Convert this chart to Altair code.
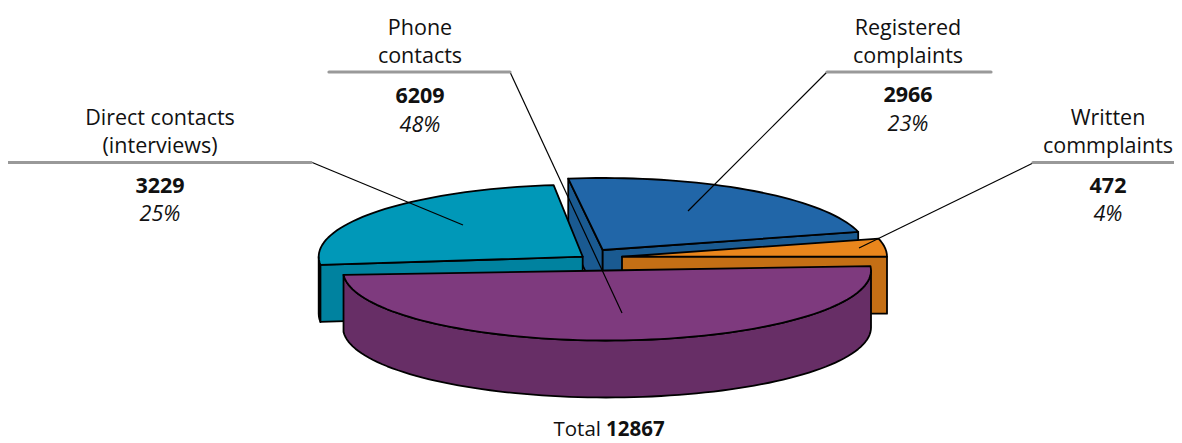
import math
import altair as alt

# ---- data
categories = ["Direct contacts", "Registered complaints", "Written commplaints", "Phone contacts"]
values = [3229, 2966, 472, 6209]
percents = ["25%", "23%", "4%", "48%"]
label_lines = [["Direct contacts", "(interviews)"], ["Registered", "complaints"],
               ["Written", "commplaints"], ["Phone", "contacts"]]
total_label = "12867"

# ---- styling / pie view (page coordinates, chart offset by 8px page margin)
OFF = 8
TOTAL = sum(values)
style = {
    "Direct contacts":       dict(c=(582.7, 256.7), start=173.4, stretch=1.0,  rx=264, ry=72, top="#0098B8", wall="#00829F", side="#00829F"),
    "Registered complaints": dict(c=(602.7, 250.0), start=262.5, stretch=1.0,  rx=264, ry=72, top="#2166A8", wall="#1A5A91", side="#1A5A91"),
    "Written commplaints":   dict(c=(622.0, 256.7), start=345.5, stretch=1.10, rx=265, ry=72, top="#EA861C", wall="#C46F15", side="#C46F15"),
    "Phone contacts":        dict(c=(607.0, 270.5), start=-3.6,  stretch=1.037, rx=264, ry=70, top="#7E3A7E", wall="#672E66", side="#672E66"),
}
DEPTH = 57
features = []


def pt(s, deg, dy=0.0):
    a = math.radians(deg)
    return [s["c"][0] + s["rx"] * math.cos(a) - OFF, s["c"][1] + s["ry"] * math.sin(a) + dy - OFF]


def add(ring, color):
    ring = ring + [ring[0]]
    features.append({"type": "Feature", "properties": {"color": color},
                     "geometry": {"type": "Polygon", "coordinates": [ring]}})


def arc(s, a0, a1, dy=0.0):
    n = max(2, int(abs(a1 - a0) / 2) + 1)
    return [pt(s, a0 + (a1 - a0) * i / (n - 1), dy) for i in range(n)]


def top(s, a0, a1):
    cen = [s["c"][0] - OFF, s["c"][1] - OFF]
    add([cen] + arc(s, a0, a1), s["top"])


def cut_wall(s, a):
    cen = [s["c"][0] - OFF, s["c"][1] - OFF]
    add([cen, pt(s, a), pt(s, a, DEPTH), [cen[0], cen[1] + DEPTH]], s["wall"])


def side(s, a0, a1):
    add(arc(s, a0, a1) + arc(s, a1, a0, DEPTH), s["side"])


span = {}
for name, v in zip(categories, values):
    s = style[name]
    span[name] = (s["start"], s["start"] + v / TOTAL * 360 * s["stretch"])

# blue
s = style["Registered complaints"]; a0, a1 = span["Registered complaints"]
cut_wall(s, a0); cut_wall(s, a1); top(s, a0, a1)
# orange
s = style["Written commplaints"]; a0, a1 = span["Written commplaints"]
cut_wall(s, a1); top(s, a0, a1)
# teal
s = style["Direct contacts"]; a0, a1 = span["Direct contacts"]
side(s, a0, 180); cut_wall(s, a0); top(s, a0, a1)
# purple
s = style["Phone contacts"]; a0, a1 = span["Phone contacts"]
side(s, 0, a1); top(s, a0, a1)

layers = [
    alt.Chart(alt.Data(values=features)).mark_geoshape(
        stroke="black", strokeWidth=1.8, strokeJoin="round"
    ).encode(fill=alt.Fill("properties.color:N", scale=None)).project(
        type="identity", scale=1, translate=[0, 0]
    )
]

FONT = "Open Sans"
FS = 21.5


def seg(x0, y0, x1, y1, color, w, cap="butt"):
    return alt.Chart(alt.Data(values=[{"k": 0}])).mark_rule(
        color=color, strokeWidth=w, strokeCap=cap
    ).encode(x=alt.value(x0 - OFF), x2=alt.value(x1 - OFF), y=alt.value(y0 - OFF), y2=alt.value(y1 - OFF))


def txt(text, x, y, weight="normal", style_="normal", align="center", size=FS):
    return alt.Chart(alt.Data(values=[{"t": text}])).mark_text(
        font=FONT, fontSize=size, fontWeight=weight, fontStyle=style_, align=align,
        baseline="middle", color="#111111"
    ).encode(text="t:N", x=alt.value(x - OFF), y=alt.value(y - OFF))


# leaders
layers += [
    seg(311, 162, 463, 225, "black", 1.2),
    seg(510, 72, 622, 313, "black", 1.2),
    seg(827, 72, 688, 211, "black", 1.2),
    seg(1033, 163, 859, 248, "black", 1.2),
    seg(8, 162.5, 311, 162.5, "#999999", 3.2, "round"),
    seg(329, 72, 510, 72, "#999999", 3.2, "round"),
    seg(827, 72, 991, 72, "#999999", 3.2, "round"),
    seg(1033, 162.5, 1182, 162.5, "#999999", 3.2, "round"),
]

label_pos = {
    "Direct contacts": (160, 118.5, 147, 186.5, 215),
    "Phone contacts": (420, 28.5, 57, 96.5, 125.5),
    "Registered complaints": (908, 28.5, 56.5, 95.5, 124.5),
    "Written commplaints": (1108, 118.5, 147, 186.5, 215),
}
for name, v, p, lines in zip(categories, values, percents, label_lines):
    x, y1, y2, y3, y4 = label_pos[name]
    layers += [txt(lines[0], x, y1), txt(lines[1], x, y2),
               txt(str(v), x, y3, weight="bold"), txt(p, x, y4, style_="italic")]

layers += [txt("Total", 601, 430, align="right", size=20.5), txt(total_label, 606, 430, weight="bold", align="left", size=20.5)]

chart = alt.layer(*layers).properties(
    width=1166, height=435, padding=0, autosize=alt.AutoSizeParams(type="none"),
    background="white"
).configure_view(stroke=None)

chart.save("out.html", embed_options={"renderer": "svg", "actions": False})
